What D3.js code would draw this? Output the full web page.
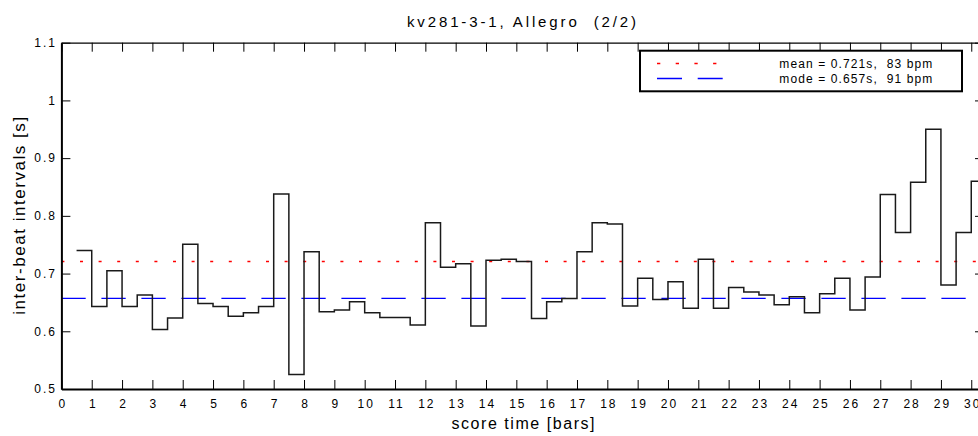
<!DOCTYPE html>
<html>
<head>
<meta charset="utf-8">
<script src="https://cdn.jsdelivr.net/npm/d3@7"></script>
<style>
  body { margin: 0; background: #fff; }
  svg { display: block; font-family: "Liberation Sans", Arial, sans-serif; }
</style>
</head>
<body>
<div id="chart"></div>
<script>
// beat intervals, one every half bar, starting at bar 0.5
var beatStart = 0.5,
    beatStep = 0.5;
var intervals = [
  0.740, 0.643, 0.705, 0.643, 0.663, 0.603, 0.623, 0.751, 0.648, 0.643,
  0.626, 0.632, 0.643, 0.838, 0.525, 0.738, 0.634, 0.637, 0.651, 0.632,
  0.624, 0.624, 0.611, 0.788, 0.711, 0.717, 0.609, 0.723, 0.725, 0.721,
  0.622, 0.651, 0.657, 0.738, 0.788, 0.786, 0.644, 0.692, 0.655, 0.686,
  0.640, 0.725, 0.640, 0.676, 0.668, 0.663, 0.646, 0.660, 0.632, 0.665,
  0.692, 0.637, 0.694, 0.837, 0.771, 0.858, 0.950, 0.680, 0.771, 0.860
];
var meanValue = 0.721,
    modeValue = 0.657;
var xTicks = d3.range(0, 31);
var yTicks = [0.5, 0.6, 0.7, 0.8, 0.9, 1, 1.1];
var legendLabels = ["mean = 0.721s,  83 bpm", "mode = 0.657s,  91 bpm"];
var titleText = "kv281-3-1, Allegro  (2/2)";

var W = 978, H = 436;
var pLeft = 61.4, pRight = 984, pTop = 42.7, pBottom = 389;

var svg = d3.select("#chart")
  .append("svg")
    .attr("width", W)
    .attr("height", H);

svg.append("rect").attr("width", W).attr("height", H).attr("fill", "#fff");

var x = d3.scaleLinear()
  .domain([0, 30.42])
  .range([pLeft, pRight]);

var y = d3.scaleLinear()
  .domain([0.5, 1.1])
  .range([pBottom, pTop]);

svg.append("defs").append("clipPath").attr("id", "plot")
  .append("rect")
    .attr("x", pLeft).attr("y", pTop)
    .attr("width", pRight - pLeft).attr("height", pBottom - pTop);

// mean and mode reference lines
svg.append("line")
  .attr("x1", x(0)).attr("x2", pRight)
  .attr("y1", y(meanValue)).attr("y2", y(meanValue))
  .attr("stroke", "#ff0000")
  .attr("stroke-width", 1.5)
  .attr("stroke-dasharray", "3,15.6");

svg.append("line")
  .attr("x1", x(0)).attr("x2", pRight)
  .attr("y1", y(modeValue)).attr("y2", y(modeValue))
  .attr("stroke", "#0000ff")
  .attr("stroke-width", 1.3)
  .attr("stroke-dasharray", "24.3,15.7");

// step line
var pts = intervals.map(function(v, i) { return [beatStart + i * beatStep, v]; });
pts.push([beatStart + intervals.length * beatStep, intervals[intervals.length - 1]]);

var line = d3.line()
  .x(function(d) { return x(d[0]); })
  .y(function(d) { return y(d[1]); })
  .curve(d3.curveStepAfter);

svg.append("path")
  .datum(pts)
  .attr("clip-path", "url(#plot)")
  .attr("d", line)
  .attr("fill", "none")
  .attr("stroke", "#1a1a1a")
  .attr("stroke-width", 1.5);

// axes, ticks pointing inwards
var tickFont = function(g) {
  g.selectAll("text")
    .attr("fill", "#000")
    .style("font-size", "12px")
    .style("letter-spacing", "2px");
  g.selectAll("line").attr("stroke", "#000");
};

svg.append("g")
  .attr("transform", "translate(0," + pBottom + ")")
  .call(d3.axisBottom(x).tickValues(xTicks).tickSizeInner(-9).tickSizeOuter(0).tickPadding(10))
  .call(tickFont)
  .call(function(g) { g.select(".domain").attr("stroke", "#000").attr("stroke-width", 2); })
  .call(function(g) { g.selectAll("text").attr("dx", "1px"); });

svg.append("g")
  .attr("transform", "translate(" + pLeft + ",0)")
  .call(d3.axisLeft(y).tickValues(yTicks).tickSizeInner(-9).tickSizeOuter(0).tickPadding(4.5)
    .tickFormat(d3.format("~g")))
  .call(tickFont)
  .call(function(g) { g.select(".domain").attr("stroke", "#000").attr("stroke-width", 2); });

svg.append("g")
  .attr("transform", "translate(0," + pTop + ")")
  .call(d3.axisTop(x).tickValues(xTicks).tickSizeInner(-9).tickSizeOuter(0).tickFormat(""))
  .call(tickFont)
  .call(function(g) { g.select(".domain").attr("stroke", "#000").attr("stroke-width", 1.2); });

svg.append("g")
  .attr("transform", "translate(" + pRight + ",0)")
  .call(d3.axisRight(y).tickValues(yTicks).tickSizeInner(-9).tickSizeOuter(0).tickFormat(""))
  .call(tickFont)
  .call(function(g) { g.select(".domain").attr("stroke", "#000").attr("stroke-width", 1.2); });

// title and axis labels
svg.append("text")
  .attr("x", 521.5)
  .attr("y", 26.7)
  .attr("text-anchor", "middle")
  .attr("textLength", 229)
  .style("white-space", "pre")
  .style("font-size", "15px")
  .text(titleText);

svg.append("text")
  .attr("x", 523)
  .attr("y", 428.5)
  .attr("text-anchor", "middle")
  .attr("textLength", 143)
  .style("font-size", "16px")
  .text("score time [bars]");

svg.append("text")
  .attr("transform", "translate(24.5," + ((pTop + pBottom) / 2) + ")rotate(-90)")
  .attr("text-anchor", "middle")
  .attr("textLength", 198)
  .style("font-size", "17px")
  .text("inter-beat intervals [s]");

// legend
var lg = svg.append("g");
lg.append("rect")
  .attr("x", 640).attr("y", 50.7)
  .attr("width", 322).attr("height", 40.6)
  .attr("fill", "#fff")
  .attr("stroke", "#000")
  .attr("stroke-width", 2);

lg.append("line")
  .attr("x1", 657).attr("x2", 717)
  .attr("y1", 63.5).attr("y2", 63.5)
  .attr("stroke", "#ff0000").attr("stroke-width", 1.5)
  .attr("stroke-dasharray", "3.3,15.4");

lg.append("line")
  .attr("x1", 657).attr("x2", 722.7)
  .attr("y1", 78.5).attr("y2", 78.5)
  .attr("stroke", "#0000ff").attr("stroke-width", 1.3)
  .attr("stroke-dasharray", "25,15.7");

lg.selectAll("text.lab")
  .data(legendLabels)
  .enter()
  .append("text")
    .attr("class", "lab")
    .attr("x", 779.3)
    .attr("y", function(d, i) { return 67.7 + i * 15.6; })
    .attr("textLength", 153)
    .style("white-space", "pre")
    .style("font-size", "12px")
    .text(function(d) { return d; });
</script>
</body>
</html>
